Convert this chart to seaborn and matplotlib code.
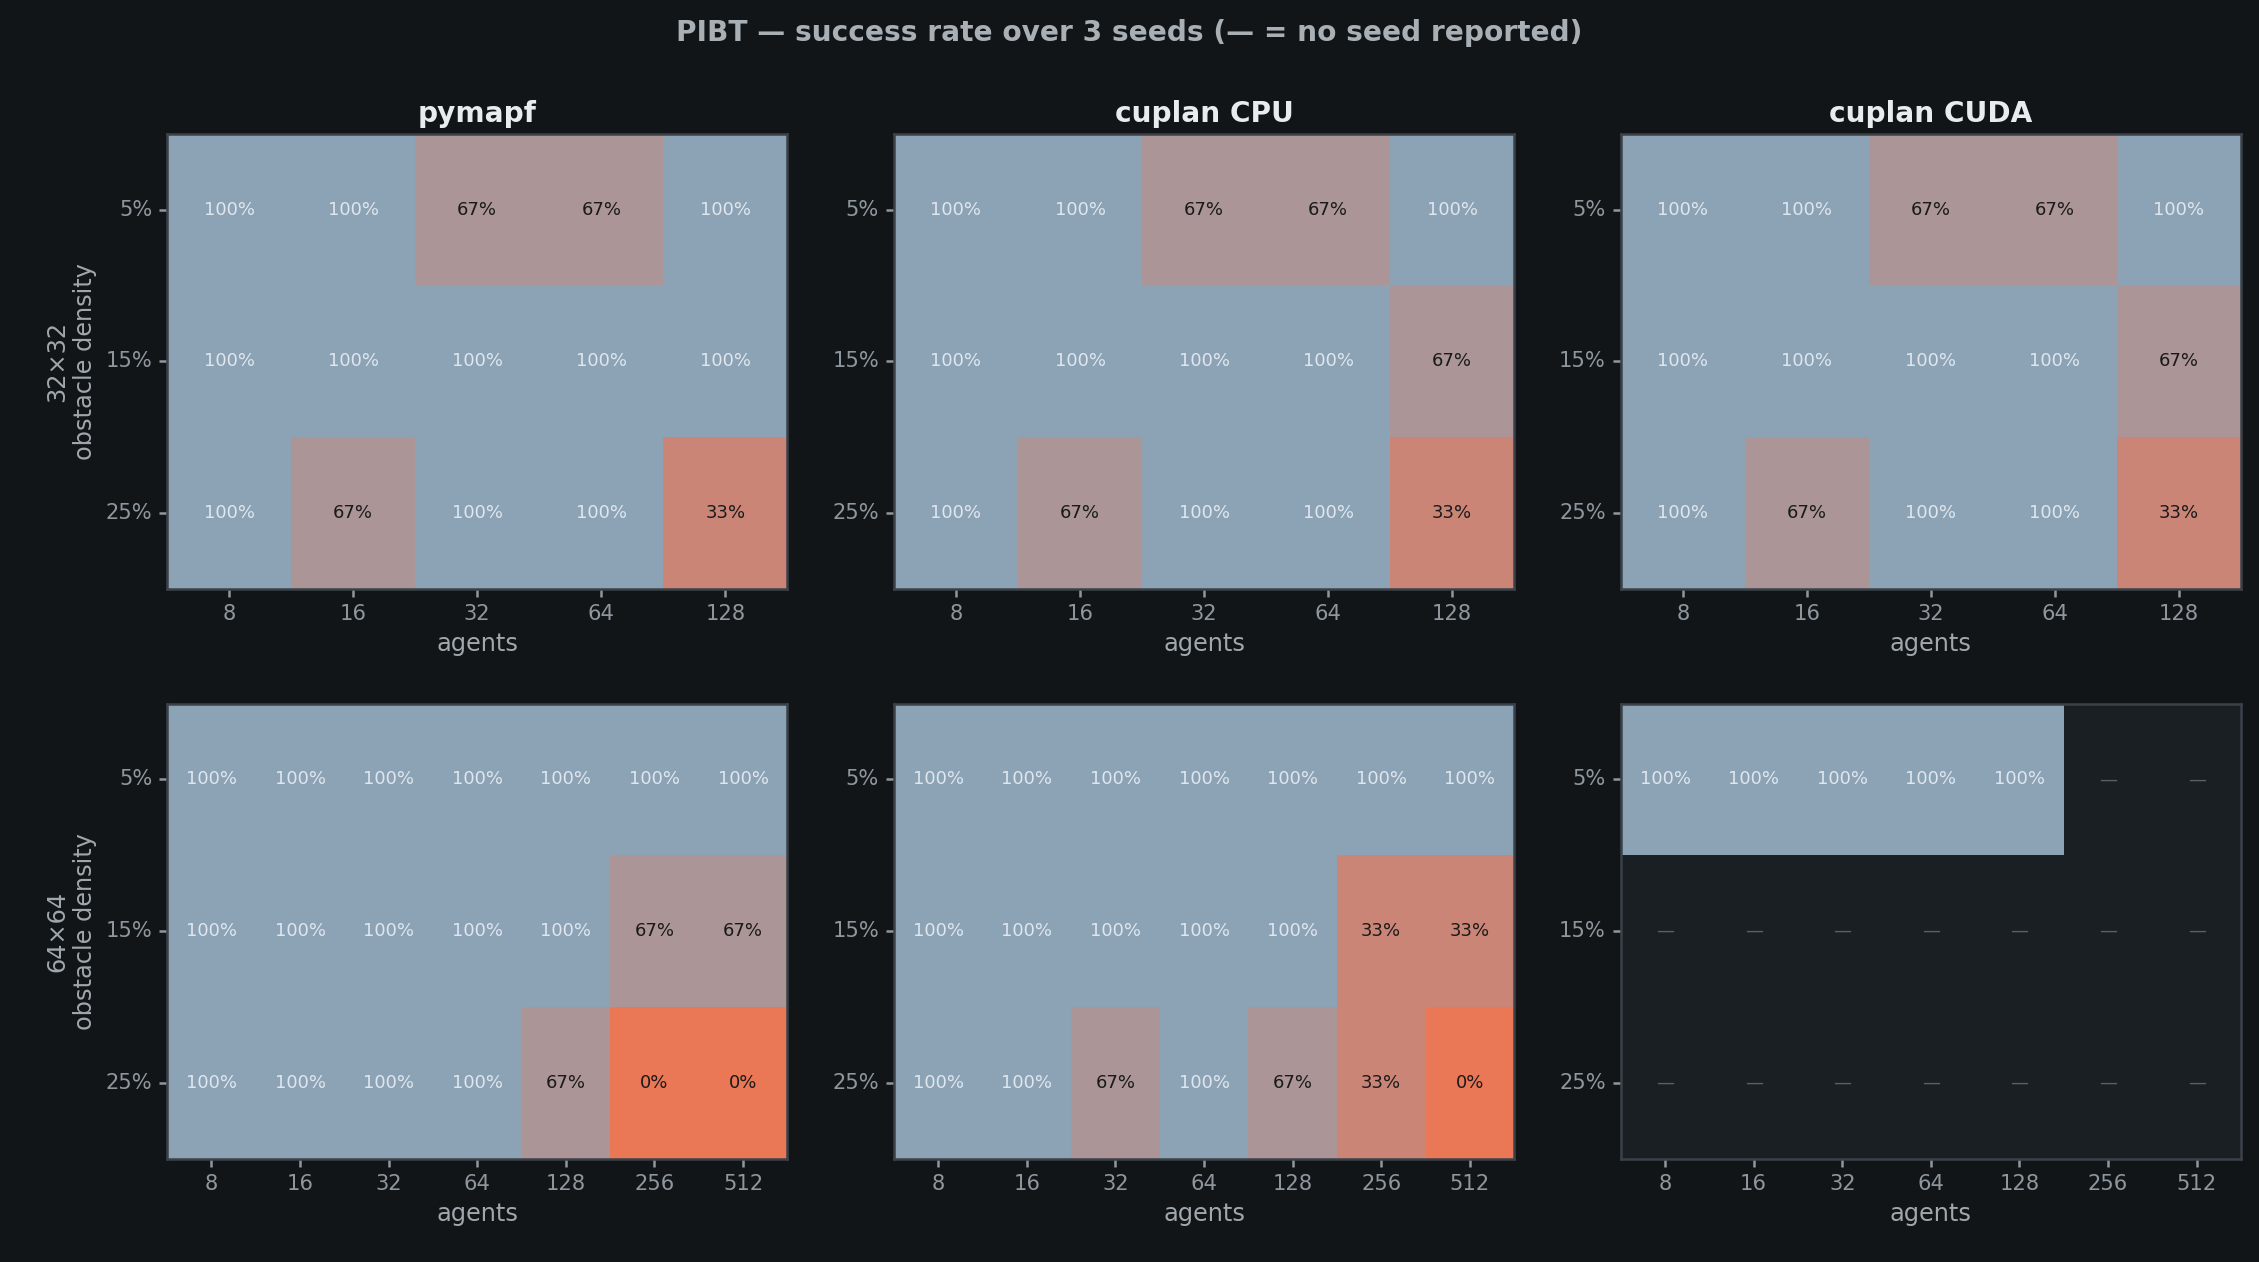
import numpy as np
import matplotlib
matplotlib.use("Agg")
import matplotlib.pyplot as plt
import seaborn as sns
from matplotlib.colors import LinearSegmentedColormap

densities = ["5%", "15%", "25%"]
agents_32 = ["8", "16", "32", "64", "128"]
agents_64 = ["8", "16", "32", "64", "128", "256", "512"]
solvers = ["pymapf", "cuplan CPU", "cuplan CUDA"]
rows = ["32×32", "64×64"]

N = np.nan
pymapf_32 = [[100, 100, 67, 67, 100], [100, 100, 100, 100, 100], [100, 67, 100, 100, 33]]
cpu_32 = [[100, 100, 67, 67, 100], [100, 100, 100, 100, 67], [100, 67, 100, 100, 33]]
cuda_32 = [[100, 100, 67, 67, 100], [100, 100, 100, 100, 67], [100, 67, 100, 100, 33]]
pymapf_64 = [[100]*7, [100, 100, 100, 100, 100, 67, 67], [100, 100, 100, 100, 67, 0, 0]]
cpu_64 = [[100]*7, [100, 100, 100, 100, 100, 33, 33], [100, 100, 67, 100, 67, 33, 0]]
cuda_64 = [[100, 100, 100, 100, 100, N, N], [N]*7, [N]*7]

data = [[pymapf_32, cpu_32, cuda_32], [pymapf_64, cpu_64, cuda_64]]
xlabels = [agents_32, agents_64]

BG = "#111518"
cmap = LinearSegmentedColormap.from_list("sr", ["#ea7756", "#8ca3b6"])

sns.set_theme(style="dark")
plt.rcParams.update({"figure.facecolor": BG, "axes.facecolor": "#1a1f24",
                     "font.family": ["DejaVu Sans"]})
fig, axes = plt.subplots(2, 3, figsize=(2259/144, 1262/144), dpi=144)
fig.subplots_adjust(left=0.074, right=0.992, top=0.894, bottom=0.082,
                    wspace=0.172, hspace=0.253)

for r in range(2):
    for c in range(3):
        ax = axes[r, c]
        arr = np.array(data[r][c], dtype=float)
        sns.heatmap(arr, ax=ax, cmap=cmap, vmin=0, vmax=100, cbar=False,
                    mask=np.isnan(arr), xticklabels=xlabels[r], yticklabels=densities)
        ax.set_facecolor("#1a1f24")
        for i in range(arr.shape[0]):
            for j in range(arr.shape[1]):
                v = arr[i, j]
                if np.isnan(v):
                    ax.text(j + 0.5, i + 0.5, "—", ha="center", va="center",
                            color="#5a6068", fontsize=9)
                else:
                    col = "#dfe6ee" if v >= 100 else "#1a1a1a"
                    ax.text(j + 0.5, i + 0.5, f"{int(v)}%", ha="center", va="center",
                            color=col, fontsize=9)
        for s in ax.spines.values():
            s.set_visible(True)
            s.set_color("#3a4148")
        ax.tick_params(colors="#8f979e", labelsize=10.5, length=4, left=True, bottom=True)
        ax.tick_params(axis="y", rotation=0)
        ax.set_xlabel("agents", color="#a0a8ae", fontsize=12)
        if c == 0:
            ax.set_ylabel(f"{rows[r]}\nobstacle density", color="#a0a8ae", fontsize=12)
        else:
            ax.set_ylabel("")
        if r == 0:
            ax.set_title(solvers[c], color="#e8ecef", fontsize=14, fontweight="bold", pad=6)

fig.suptitle("PIBT — success rate over 3 seeds (— = no seed reported)",
             color="#a8b0b6", fontsize=14, fontweight="bold", y=0.985)
fig.savefig("out.png", dpi=144, facecolor=BG)
